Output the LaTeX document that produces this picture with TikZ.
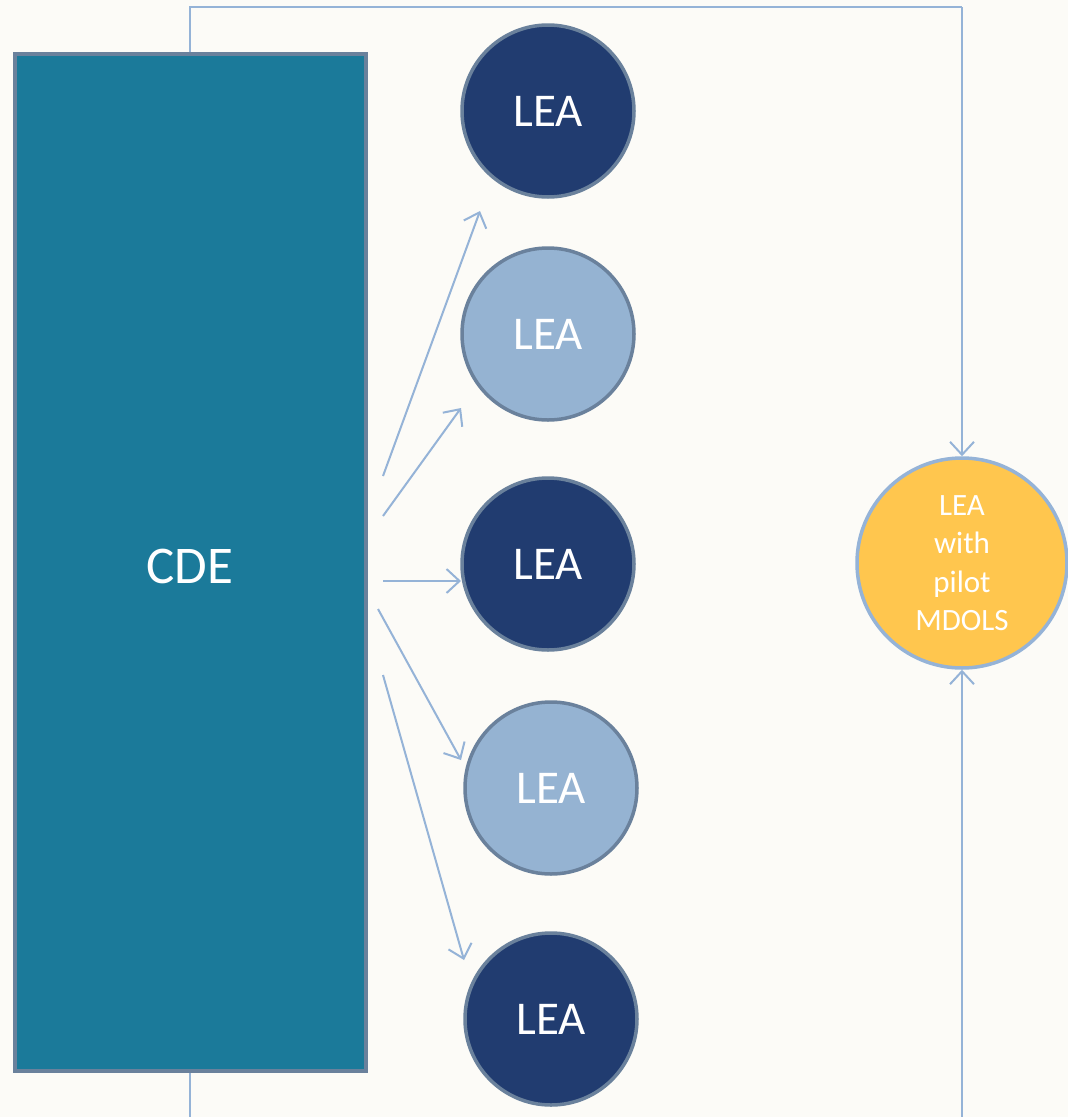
\documentclass[tikz,border=0pt]{standalone}
\usepackage{fontspec}
\setmainfont{Carlito}
\usetikzlibrary{arrows.meta}
\definecolor{bgc}{HTML}{FCFBF7}
\definecolor{teal}{HTML}{1B7A9A}
\definecolor{rimc}{HTML}{6A819C}
\definecolor{darkb}{HTML}{213C70}
\definecolor{lightb}{HTML}{95B3D2}
\definecolor{linec}{HTML}{95B3D7}
\definecolor{yel}{HTML}{FFC64E}
\tikzset{
  lea/.style={circle, draw=rimc, line width=3.5pt, minimum size=172pt, inner sep=0pt, text=white, font=\fontsize{47}{52}\selectfont},
  leadark/.style={lea, fill=darkb},
  lealight/.style={lea, fill=lightb},
  conn/.style={draw=linec, line width=2pt},
  arr/.style={conn, -{Straight Barb[length=13pt,width=24pt,line width=2pt]}},
}
\begin{document}
\begin{tikzpicture}[x=1pt,y=-1pt]
\fill[bgc] (0,0) rectangle (1068,1117);
\useasboundingbox (0,0) rectangle (1068,1117);
\node[draw=rimc, fill=teal, line width=3.5pt, minimum width=351pt, minimum height=1017pt, inner sep=0pt] (cde) at (190.5,562.5) {};
\node[text=white, font=\fontsize{53}{58}\selectfont] (cdelabel) at (190,566) {CDE};
\node[leadark] (l1) at (548,111) {LEA};
\node[lealight] (l2) at (548,334) {LEA};
\node[leadark] (l3) at (548,564) {LEA};
\node[lealight] (l4) at (551,788) {LEA};
\node[leadark] (l5) at (551,1019) {LEA};
\node[circle, draw=linec, fill=yel, line width=3.5pt, minimum size=210pt, inner sep=0pt, text=white, align=center, font=\fontsize{31}{38.5}\selectfont] (pilot) at (962,563) {LEA\\with\\pilot\\MDOLS};
% top connector
\coordinate (tl) at (190,7);
\coordinate (tr) at (962,7);
\draw[conn] (cde.north -| tl) -- (tl) -- (tr);
\draw[arr] (tr) -- (pilot.north);
% bottom connectors
\coordinate (bl) at (190,1117);
\coordinate (br) at (962,1117);
\draw[conn] (cde.south -| bl) -- (bl);
\draw[arr] (br) -- (pilot.south);
% fan arrows
\coordinate (s1) at (383,476); \coordinate (e1) at (480,211);
\coordinate (s2) at (383,516); \coordinate (e2) at (461,408);
\coordinate (s3) at (383,581); \coordinate (e3) at (461,581);
\coordinate (s4) at (378,609); \coordinate (e4) at (461,760);
\coordinate (s5) at (383,675); \coordinate (e5) at (464,960);
\foreach \i in {1,...,5} {\draw[arr] (s\i) -- (e\i);}
\end{tikzpicture}
\end{document}
